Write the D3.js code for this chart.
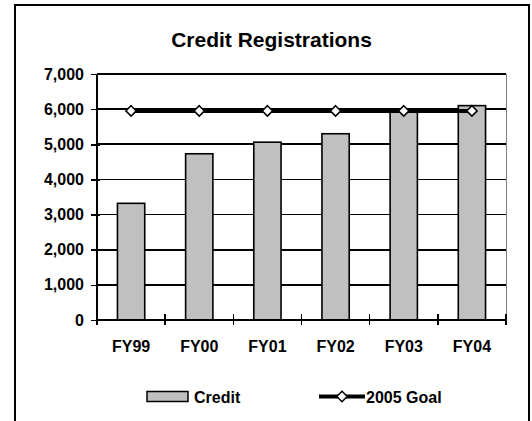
<!DOCTYPE html>
<html>
<head>
<meta charset="utf-8">
<script src="https://cdn.jsdelivr.net/npm/d3@7"></script>
<style>
  body { margin: 0; background: #fff; }
  text { font-family: Arial, "Liberation Sans", sans-serif; font-weight: bold; fill: #000; }
</style>
</head>
<body>
<div id="chart"></div>
<script>
// dane
var lata = ["FY99", "FY00", "FY01", "FY02", "FY03", "FY04"];
var credit = [3320, 4730, 5060, 5300, 5960, 6100];
var cel2005 = [5950, 5950, 5950, 5950, 5950, 5950];
var yTicks = [0, 1000, 2000, 3000, 4000, 5000, 6000, 7000];

var W = 532, H = 421;
var margin = {top: 74, right: 26, bottom: 101, left: 97};
var width = W - margin.left - margin.right,
    height = H - margin.top - margin.bottom;

var svg = d3.select("#chart").append("svg")
    .attr("width", W).attr("height", H);

// ramka
svg.append("rect")
    .attr("x", 15).attr("y", 5)
    .attr("width", 514).attr("height", 430)
    .attr("fill", "#fff").attr("stroke", "#000").attr("stroke-width", 2);

// tytul
svg.append("text")
    .attr("x", 271.5).attr("y", 47)
    .attr("text-anchor", "middle")
    .style("font-size", "21px")
    .text("Credit Registrations");

var g = svg.append("g")
    .attr("transform", "translate(" + margin.left + "," + margin.top + ")");

var x = d3.scaleBand().domain(lata).range([0, width])
    .paddingInner(0.6).paddingOuter(0.3);
var y = d3.scaleLinear().domain([0, 7000]).range([height, 0]);

// prawa krawedz obszaru
g.append("line")
    .attr("x1", width).attr("x2", width)
    .attr("y1", 0).attr("y2", height)
    .attr("stroke", "#808080").attr("stroke-width", 1)
    .attr("shape-rendering", "crispEdges");

// linie siatki
g.selectAll(".grid").data(yTicks.slice(1)).enter().append("line")
    .attr("x1", 0).attr("x2", width)
    .attr("y1", function(d){ return y(d); })
    .attr("y2", function(d){ return y(d); })
    .attr("stroke", "#000").attr("stroke-width", 1.6)
    .attr("shape-rendering", "crispEdges");

// os Y
var yAxis = g.append("g")
    .call(d3.axisLeft(y).tickValues(yTicks).tickSize(6)
        .tickFormat(d3.format(",")));
yAxis.select(".domain").attr("stroke-width", 2).attr("d", "M0," + height + "V0")
    .attr("shape-rendering", "crispEdges");
yAxis.selectAll(".tick line").attr("x1", 3).attr("x2", -6).attr("stroke-width", 1.6)
    .attr("shape-rendering", "crispEdges");
yAxis.selectAll(".tick text").attr("x", -13).style("font-size", "16px")
    .style("font-family", "Arial, 'Liberation Sans', sans-serif");

// slupki
g.selectAll(".bar").data(credit).enter().append("rect")
    .attr("x", function(d, i){ return x(lata[i]); })
    .attr("y", function(d){ return y(d); })
    .attr("width", x.bandwidth())
    .attr("height", function(d){ return height - y(d); })
    .attr("fill", "#c0c0c0").attr("stroke", "#000").attr("stroke-width", 1.6);

// os X
var granice = d3.range(lata.length + 1).map(function(i){ return i * x.step(); });
g.append("line")
    .attr("x1", 0).attr("x2", width)
    .attr("y1", height).attr("y2", height)
    .attr("stroke", "#000").attr("stroke-width", 2)
    .attr("shape-rendering", "crispEdges");
g.selectAll(".xtick").data(granice).enter().append("line")
    .attr("x1", function(d){ return d; }).attr("x2", function(d){ return d; })
    .attr("y1", height - 6).attr("y2", height + 5)
    .attr("stroke", "#000").attr("stroke-width", 1.6)
    .attr("shape-rendering", "crispEdges");
g.selectAll(".xlab").data(lata).enter().append("text")
    .attr("x", function(d){ return x(d) + x.bandwidth() / 2; })
    .attr("y", height + 32)
    .attr("text-anchor", "middle")
    .style("font-size", "16px")
    .text(function(d){ return d; });

// linia celu
var linia = d3.line()
    .x(function(d, i){ return x(lata[i]) + x.bandwidth() / 2; })
    .y(function(d){ return y(d); });
g.append("path").datum(cel2005)
    .attr("d", linia)
    .attr("fill", "none").attr("stroke", "#000").attr("stroke-width", 4);

var romb = d3.symbol().type(d3.symbolDiamond2).size(70);
g.selectAll(".mark").data(cel2005).enter().append("path")
    .attr("d", romb)
    .attr("transform", function(d, i){
        return "translate(" + (x(lata[i]) + x.bandwidth() / 2) + "," + y(d) + ")";
    })
    .attr("fill", "#fff").attr("stroke", "#000").attr("stroke-width", 1.5);

// legenda
var leg = svg.append("g");
leg.append("rect")
    .attr("x", 147).attr("y", 391.5).attr("width", 41).attr("height", 10)
    .attr("fill", "#c0c0c0").attr("stroke", "#000").attr("stroke-width", 1.5);
leg.append("text").attr("x", 194).attr("y", 402.5)
    .style("font-size", "16px").text("Credit");
leg.append("line")
    .attr("x1", 319).attr("x2", 365).attr("y1", 396.5).attr("y2", 396.5)
    .attr("stroke", "#000").attr("stroke-width", 4);
leg.append("path").attr("d", romb)
    .attr("transform", "translate(342,396.5)")
    .attr("fill", "#fff").attr("stroke", "#000").attr("stroke-width", 1.5);
leg.append("text").attr("x", 366).attr("y", 402.5)
    .style("font-size", "16px").text("2005 Goal");
</script>
</body>
</html>
